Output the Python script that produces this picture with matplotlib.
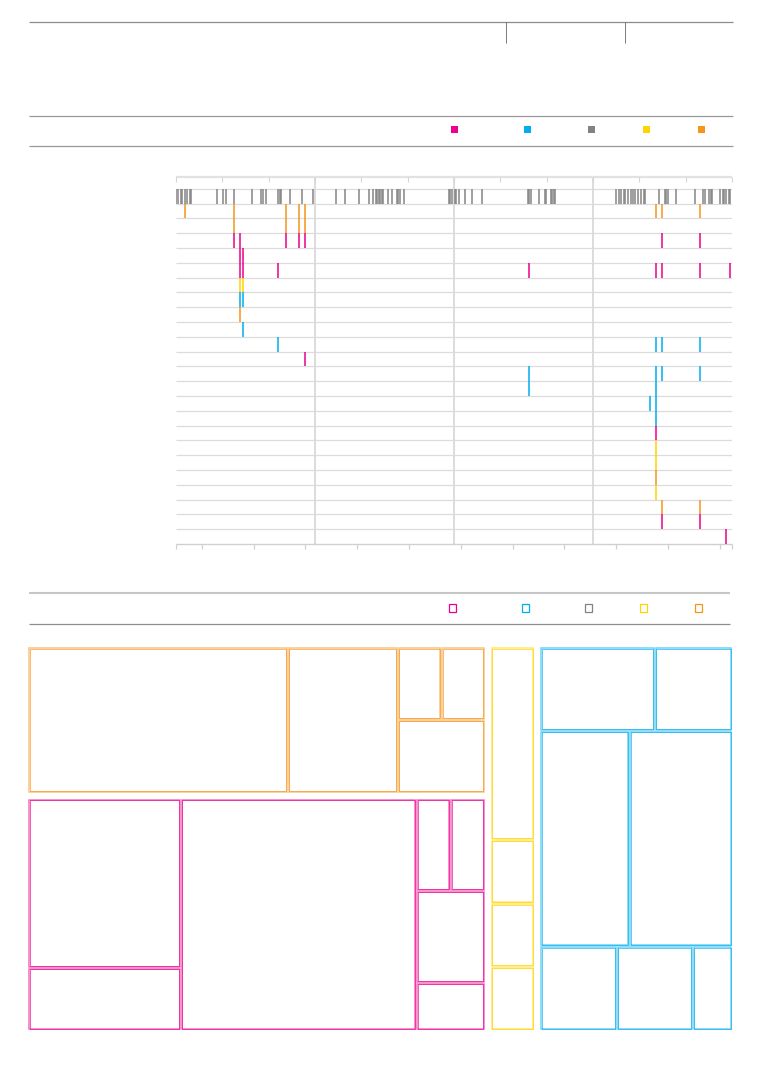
import numpy as np
import matplotlib
matplotlib.use('Agg')
import matplotlib.pyplot as plt
from matplotlib.patches import Rectangle

# category colours: pink, blue, gray, yellow, orange
cats = ['p', 'b', 'g', 'y', 'o']
colors = {'p': '#ec008c', 'b': '#00aeef', 'g': '#808285', 'y': '#ffd400', 'o': '#f7941d'}

# timeline (x in days of the year, 0-365)
gray_days = [0, 1, 3, 4, 6, 7, 9, 10, 27, 31, 33, 38, 50, 56, 57, 59, 67, 68, 69, 75, 83, 90,
             105, 111, 120, 127, 129, 131, 132, 133, 134, 135, 136, 139, 142, 145, 146, 147, 150,
             179, 180, 181, 183, 184, 186, 190, 194, 201, 231, 232, 233, 238, 242, 243,
             246, 247, 248, 249, 289, 291, 292, 294, 295, 297, 299, 300, 301, 303, 305, 307, 308,
             317, 321, 322, 323, 328, 341, 346, 347, 350, 351, 352, 357, 359, 360, 361, 363, 364]

seg_day = [6, 38, 72, 81, 85, 315, 319, 344,
           38, 72, 81, 85,
           38, 42, 72, 81, 85, 319, 344,
           42, 44,
           42, 44, 67, 232, 315, 319, 344, 364,
           42, 44,
           42, 44,
           42,
           44,
           67, 315, 319, 344,
           85,
           232, 315, 319, 344,
           232, 315,
           311, 315,
           315, 315, 315, 315, 315, 315,
           319, 344,
           319, 344,
           361]
seg_row = [1, 1, 1, 1, 1, 1, 1, 1,
           2, 2, 2, 2,
           3, 3, 3, 3, 3, 3, 3,
           4, 4,
           5, 5, 5, 5, 5, 5, 5, 5,
           6, 6,
           7, 7,
           8,
           9,
           10, 10, 10, 10,
           11,
           12, 12, 12, 12,
           13, 13,
           14, 14,
           15, 16, 17, 18, 19, 20,
           21, 21,
           22, 22,
           23]
seg_cat = ['o', 'o', 'o', 'o', 'o', 'o', 'o', 'o',
           'o', 'o', 'o', 'o',
           'p', 'p', 'p', 'p', 'p', 'p', 'p',
           'p', 'p',
           'p', 'p', 'p', 'p', 'p', 'p', 'p', 'p',
           'y', 'y',
           'b', 'b',
           'o',
           'b',
           'b', 'b', 'b', 'b',
           'p',
           'b', 'b', 'b', 'b',
           'b', 'b',
           'b', 'b',
           'b', 'p', 'y', 'y', 'o', 'y',
           'o', 'o',
           'p', 'p',
           'p']
n_rows = 24

# treemap leaf sizes per group
orange_vals = [146, 61, 12, 12, 24]
pink_vals = [100, 36, 211, 12, 12, 24, 12]
yellow_vals = [31, 10, 10, 10]
blue_vals = [36, 24, 72, 84, 24, 24, 12]

W, H = 768, 1069
fig = plt.figure(figsize=(W / 100, H / 100), dpi=100)


def px_axes(x0, y0, x1, y1):
    return fig.add_axes([x0 / W, 1 - y1 / H, (x1 - x0) / W, (y1 - y0) / H])


# header / legend rules
ov = fig.add_axes([0, 0, 1, 1])
ov.set_xlim(0, W)
ov.set_ylim(H, 0)
ov.axis('off')
ov.hlines(21.5, 29, 733, color='#8c8c8c', lw=0.9)
ov.vlines([505.5, 624.5], 21.5, 43, color='#666666', lw=0.6)
ov.hlines([115.5, 145.5], 29, 733, color='#999999', lw=0.9)
for x, c in zip([454.4, 527.5, 591.2, 646, 701], cats):
    ov.add_patch(Rectangle((x - 3.5, 126), 7, 7, color=colors[c], lw=0))
ov.hlines(593, 29, 730, color='#c6c6c6', lw=1.5)
ov.hlines(623.5, 29, 730, color='#8c8c8c', lw=0.9)
for x, c in zip([452.7, 525.2, 588.7, 643.4, 698], cats):
    ov.add_patch(Rectangle((x - 3.5, 604), 7, 7.5, fill=False, ec=colors[c], lw=0.9))

# timeline
ax = px_axes(176, 177, 732, 544)
ax.set_xlim(0, 365)
ax.set_ylim(n_rows, -0.8)
ax.axis('off')
ax.hlines(-0.8, 0, 365, color='#e2e2e2', lw=1.6, clip_on=False)
ax.vlines(np.linspace(0, 365, 13), -0.8, -0.45, color='#d6d6d6', lw=0.8, clip_on=False)
ax.vlines([91.25, 182.5, 273.75], -0.8, n_rows, color='#d6d6d6', lw=1.2, zorder=1)
ax.hlines(range(0, n_rows), 0, 365, color='#dcdcdc', lw=0.9, zorder=1)
ax.hlines(n_rows, 0, 365, color='#d0d0d0', lw=1.0, clip_on=False)
bottom_ticks = [0] + list(np.arange(17, 365, 34)) + [365]
ax.vlines(bottom_ticks, n_rows, n_rows + 0.35, color='#d0d0d0', lw=0.9, clip_on=False)
ax.vlines(gray_days, 0, 1, color='#858585', lw=1.1, zorder=2)
for d, r, c in zip(seg_day, seg_row, seg_cat):
    ax.vlines(d, r, r + 1, color=colors[c], lw=1.3, alpha=0.85, zorder=3)

# treemap
o, p, y, b = orange_vals, pink_vals, yellow_vals, blue_vals
orange = ('h', [o[0], o[1], ('v', [('h', [o[2], o[3]]), o[4]])], 'o')
pink = ('h', [('v', [p[0], p[1]]), p[2], ('v', [('h', [p[3], p[4]]), p[5], p[6]])], 'p')
yellow = ('v', list(y), 'y')
blue = ('v', [('h', [b[0], b[1]]), ('h', [b[2], b[3]]), ('h', [b[4], b[5], b[6]])], 'b')
tree = ('h', [('v', [orange, pink], None), yellow, blue], None)


def total(node):
    if isinstance(node, (int, float)):
        return node
    return sum(total(ch) for ch in node[1])


def layout(node, x, yy, w, h, color, out):
    if isinstance(node, (int, float)):
        out.append((x, yy, w, h, color))
        return
    kind, children = node[0], node[1]
    if len(node) > 2 and node[2]:
        color = node[2]
    gap = 2 if color else 8
    vals = [total(ch) for ch in children]
    span = (w if kind == 'h' else h) - gap * (len(children) - 1)
    pos = x if kind == 'h' else yy
    for ch, v in zip(children, vals):
        size = span * v / sum(vals)
        if kind == 'h':
            layout(ch, pos, yy, size, h, color, out)
        else:
            layout(ch, x, pos, w, size, color, out)
        pos += size + gap


tm = px_axes(29, 648, 731, 1029)
tm.set_xlim(0, 702)
tm.set_ylim(381, 0)
tm.axis('off')
rects = []
layout(tree, 0, 0, 702, 381, None, rects)
for x, yy, w, h, c in rects:
    tm.add_patch(Rectangle((x, yy), w, h, fill=False, ec=colors[c], lw=1.1, alpha=0.55, clip_on=False))
    tm.add_patch(Rectangle((x + 0.5, yy + 0.5), w - 1.0, h - 1.0, fill=False, ec=colors[c], lw=0.5,
                           alpha=0.9, clip_on=False))

fig.savefig('out.png', dpi=100, facecolor='white')
